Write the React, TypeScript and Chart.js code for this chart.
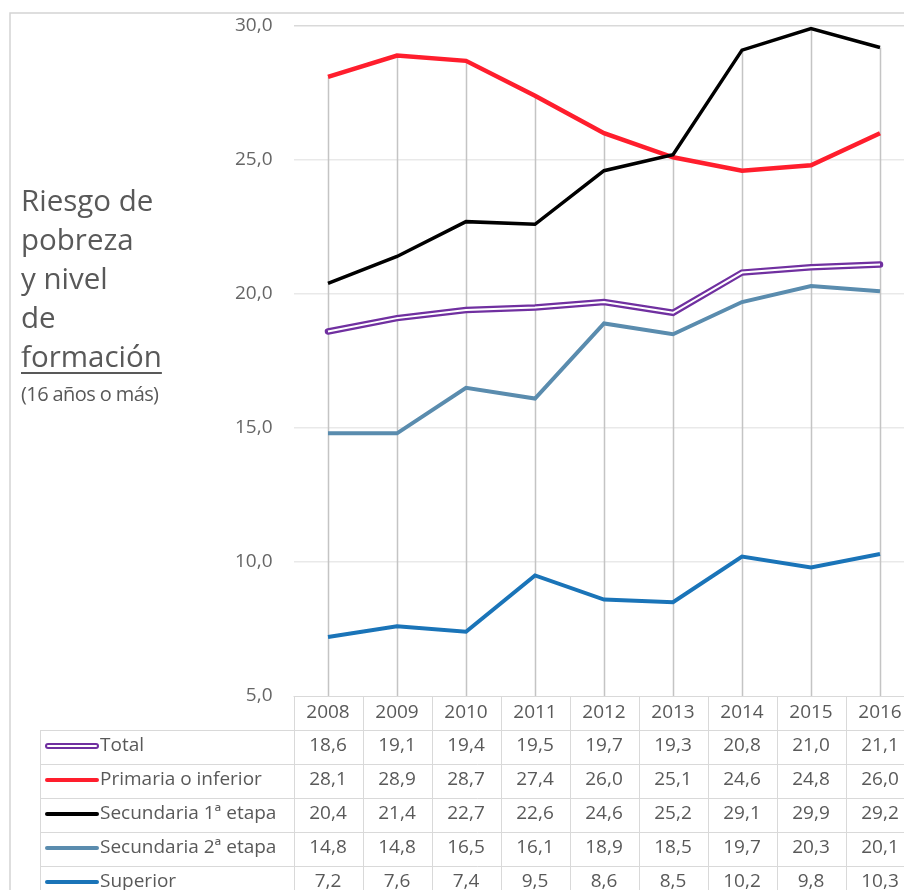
import React, { useEffect, useRef } from "react";
import { Chart, registerables } from "chart.js";

Chart.register(...registerables);

const years = ["2008", "2009", "2010", "2011", "2012", "2013", "2014", "2015", "2016"];
const total = [18.6, 19.1, 19.4, 19.5, 19.7, 19.3, 20.8, 21.0, 21.1];
const primaria = [28.1, 28.9, 28.7, 27.4, 26.0, 25.1, 24.6, 24.8, 26.0];
const secundaria1 = [20.4, 21.4, 22.7, 22.6, 24.6, 25.2, 29.1, 29.9, 29.2];
const secundaria2 = [14.8, 14.8, 16.5, 16.1, 18.9, 18.5, 19.7, 20.3, 20.1];
const superior = [7.2, 7.6, 7.4, 9.5, 8.6, 8.5, 10.2, 9.8, 10.3];
const yTicks = [5, 10, 15, 20, 25, 30];

const seriesNames = ["Total", "Primaria o inferior", "Secundaria 1ª etapa", "Secundaria 2ª etapa", "Superior"];
const seriesColors = ["#7030A0", "#FF1E2D", "#000000", "#5A8CAE", "#1A74B8"];
const seriesData = [total, primaria, secundaria1, secundaria2, superior];

const FONT = "'Open Sans', Lato, sans-serif";
const TEXT = "#595959";
const fmt = (v: number) => v.toFixed(1).replace(".", ",");

const tablePlugin = {
  id: "tablePlugin",
  beforeDatasetsDraw(chart: any) {
    const { ctx, chartArea, scales } = chart;
    const x = scales.x;
    const y = scales.y;
    ctx.save();
    ctx.strokeStyle = "#c4c4c4";
    ctx.lineWidth = 1.5;
    for (let i = 0; i < years.length; i++) {
      let maxV = -Infinity;
      seriesData.forEach((s) => (maxV = Math.max(maxV, s[i])));
      const px = Math.round(x.getPixelForValue(i)) + 0.5;
      ctx.beginPath();
      ctx.moveTo(px, y.getPixelForValue(maxV));
      ctx.lineTo(px, chartArea.bottom);
      ctx.stroke();
    }
    ctx.restore();
  },
  afterDraw(chart: any) {
    const { ctx, chartArea, scales } = chart;
    const x = scales.x;
    const colW = chartArea.width / years.length;
    const top = chartArea.bottom;
    const rowH = 34;
    const legLeft = 40;
    ctx.save();
    // outer border
    ctx.strokeStyle = "#d4d4d4";
    ctx.lineWidth = 1.5;
    ctx.beginPath();
    ctx.moveTo(10, chart.height);
    ctx.lineTo(10, 13);
    ctx.lineTo(chart.width, 13);
    ctx.stroke();

    // table grid
    ctx.strokeStyle = "#d9d9d9";
    ctx.lineWidth = 1;
    const nRows = seriesNames.length + 1;
    for (let r = 0; r <= nRows; r++) {
      const yy = Math.round(top + r * rowH) + 0.5;
      ctx.beginPath();
      ctx.moveTo(r === 0 ? chartArea.left : legLeft, yy);
      ctx.lineTo(chartArea.right, yy);
      ctx.stroke();
    }
    for (let c = 0; c <= years.length; c++) {
      const xx = Math.round(chartArea.left + c * colW) + 0.5;
      ctx.beginPath();
      ctx.moveTo(xx, top);
      ctx.lineTo(xx, top + nRows * rowH);
      ctx.stroke();
    }
    ctx.beginPath();
    ctx.moveTo(legLeft + 0.5, top + rowH);
    ctx.lineTo(legLeft + 0.5, top + nRows * rowH);
    ctx.stroke();

    ctx.fillStyle = TEXT;
    ctx.font = `19px ${FONT}`;
    ctx.textAlign = "center";
    ctx.textBaseline = "middle";
    years.forEach((yr, i) => {
      ctx.fillText(yr, x.getPixelForValue(i), top + rowH / 2);
    });
    seriesData.forEach((s, r) => {
      const cy = top + (r + 1) * rowH + rowH / 2 - 1;
      s.forEach((v, i) => {
        ctx.textAlign = "center";
        ctx.fillText(fmt(v), x.getPixelForValue(i), cy);
      });
      // legend sample
      const ly = cy;
      ctx.lineCap = "round";
      if (r === 0) {
        ctx.strokeStyle = seriesColors[0];
        ctx.lineWidth = 6;
        ctx.beginPath();
        ctx.moveTo(48, ly);
        ctx.lineTo(96, ly);
        ctx.stroke();
        ctx.strokeStyle = "#ffffff";
        ctx.lineWidth = 2;
        ctx.beginPath();
        ctx.moveTo(48, ly);
        ctx.lineTo(96, ly);
        ctx.stroke();
      } else {
        ctx.strokeStyle = seriesColors[r];
        ctx.lineWidth = 4;
        ctx.beginPath();
        ctx.moveTo(47, ly);
        ctx.lineTo(97, ly);
        ctx.stroke();
      }
      ctx.textAlign = "left";
      ctx.fillStyle = TEXT;
      ctx.fillText(seriesNames[r], 100, cy);
    });
    ctx.restore();
  },
};

export default function App() {
  const canvasRef = useRef<HTMLCanvasElement | null>(null);

  useEffect(() => {
    document.body.style.margin = "0";
    const canvas = canvasRef.current;
    if (!canvas) return;
    const chart = new Chart(canvas, {
      type: "line",
      data: {
        labels: years,
        datasets: [
          { label: "Superior", data: superior, borderColor: seriesColors[4], borderWidth: 4, pointRadius: 0, tension: 0 },
          { label: "Secundaria 2ª etapa", data: secundaria2, borderColor: seriesColors[3], borderWidth: 4, pointRadius: 0, tension: 0 },
          { label: "Total-inner", data: total, borderColor: "#ffffff", borderWidth: 2, pointRadius: 0, tension: 0 },
          { label: "Total", data: total, borderColor: seriesColors[0], borderWidth: 6.5, pointRadius: 0, tension: 0, borderCapStyle: "round" },
          { label: "Secundaria 1ª etapa", data: secundaria1, borderColor: seriesColors[2], borderWidth: 3.5, pointRadius: 0, tension: 0 },
          { label: "Primaria o inferior", data: primaria, borderColor: seriesColors[1], borderWidth: 4.5, pointRadius: 0, tension: 0 },
        ],
      },
      options: {
        responsive: false,
        animation: false,
        layout: { padding: { top: 26, bottom: 890 - 696, left: 0, right: 15.5 } },
        plugins: { legend: { display: false }, tooltip: { enabled: false } },
        scales: {
          x: { type: "category", offset: true, display: false },
          y: {
            min: 5,
            max: 30,
            afterFit: (s: any) => {
              s.width = 293.5;
              s.paddingTop = 0;
              s.paddingBottom = 0;
            },
            afterBuildTicks: (s: any) => {
              s.ticks = yTicks.map((v) => ({ value: v }));
            },
            border: { display: false },
            grid: {
              drawTicks: false,
              color: (c: any) => (c.tick && c.tick.value === 5 ? "rgba(0,0,0,0)" : c.tick && c.tick.value === 30 ? "#d9d9d9" : "#e9e9e9"),
              lineWidth: 1.5,
            },
            ticks: {
              padding: 21,
              color: "#666666",
              font: { family: FONT, size: 19 },
              callback: (v: any) => fmt(Number(v)),
            },
          },
        },
      },
      plugins: [tablePlugin],
    });
    return () => chart.destroy();
  }, []);

  const lineStyle: React.CSSProperties = { fontSize: 29.5, lineHeight: "39px", color: TEXT, fontFamily: FONT, whiteSpace: "nowrap" };
  return (
    <div style={{ position: "relative", width: 904, height: 890, overflow: "hidden", background: "#fff" }}>
      <canvas ref={canvasRef} width={930} height={890} style={{ position: "absolute", left: 0, top: 0, width: 930, height: 890 }} />
      <div style={{ position: "absolute", left: 21, top: 180 }}>
        <div style={lineStyle}>Riesgo de</div>
        <div style={lineStyle}>pobreza</div>
        <div style={lineStyle}>y nivel</div>
        <div style={lineStyle}>de</div>
        <div style={lineStyle}>
          <span style={{ textDecoration: "underline", textUnderlineOffset: 5, textDecorationThickness: 2 }}>formación</span>
        </div>
        <div style={{ fontSize: 20, lineHeight: "22px", color: TEXT, fontFamily: FONT, marginTop: 8, whiteSpace: "nowrap", letterSpacing: -0.6 }}>(16 años o más)</div>
      </div>
    </div>
  );
}
